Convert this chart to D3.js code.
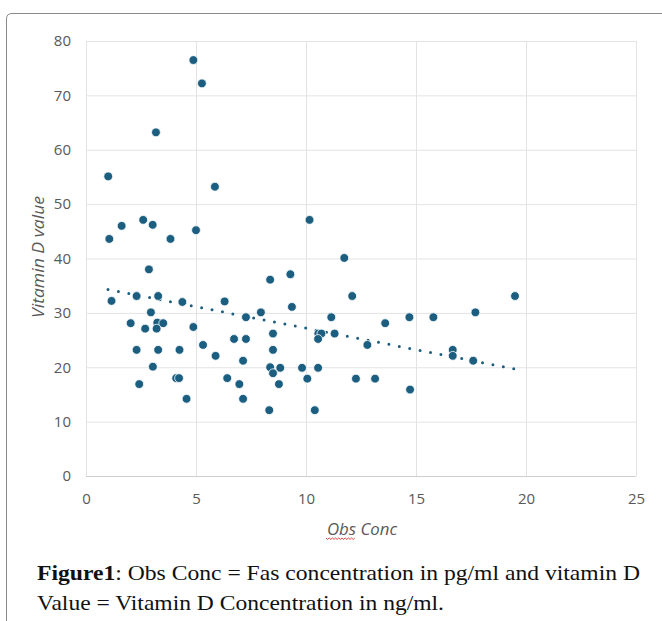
<!DOCTYPE html>
<html>
<head>
<meta charset="utf-8">
<script src="https://cdn.jsdelivr.net/npm/d3@7"></script>
<style>
  body { margin: 0; background: #fff; }
  svg text { font-family: "Open Sans", "DejaVu Sans", sans-serif; }
  .caption { font-family: "Liberation Serif", "Times New Roman", serif; font-size: 21.5px; fill: #111; }
</style>
</head>
<body>
<div id="chart-area"></div>
<script>
// Data
let obsConc = [4.88, 5.27, 3.18, 1.01, 5.86, 1.62, 2.6, 3.03, 5.0, 1.06,
    3.84, 2.86, 8.37, 1.16, 2.3, 3.28, 4.38, 6.3, 2.95, 7.95,
    7.27, 2.03, 2.69, 3.24, 3.51, 3.21, 4.88, 8.5, 6.73, 7.27,
    5.32, 8.5, 2.3, 3.28, 4.25, 5.89, 7.14, 3.04, 8.37, 8.5,
    2.42, 4.1, 4.23, 6.42, 6.97, 8.77, 4.57, 7.14, 8.33, 10.16,
    11.74, 9.29, 12.1, 9.36, 11.15, 13.6, 14.7, 15.79, 10.56, 10.7,
    11.3, 10.55, 12.79, 16.67, 16.67, 8.83, 9.82, 10.55, 10.06, 12.27,
    13.14, 14.73, 10.4, 17.7, 19.5, 17.6];
let vitD = [76.5, 72.2, 63.2, 55.1, 53.2, 46.0, 47.1, 46.2, 45.2, 43.6,
    43.6, 38.0, 36.1, 32.2, 33.1, 33.1, 32.0, 32.1, 30.1, 30.1,
    29.2, 28.1, 27.1, 28.2, 28.1, 27.1, 27.4, 26.2, 25.2, 25.2,
    24.1, 23.2, 23.2, 23.2, 23.2, 22.1, 21.2, 20.1, 20.0, 18.9,
    16.9, 18.0, 18.0, 18.0, 16.9, 16.9, 14.2, 14.2, 12.1, 47.1,
    40.1, 37.1, 33.1, 31.1, 29.2, 28.1, 29.2, 29.2, 26.2, 26.2,
    26.2, 25.2, 24.1, 23.2, 22.1, 19.9, 19.9, 19.9, 17.9, 17.9,
    17.9, 15.9, 12.1, 30.1, 33.1, 21.2];
let trendX = [1.0, 19.6];
let trendY = [34.3, 19.6];
let xTicks = [0, 5, 10, 15, 20, 25];
let yTicks = [0, 10, 20, 30, 40, 50, 60, 70, 80];

let points = obsConc.map((d, i) => ({x: d, y: vitD[i]}));

let W = 662, H = 621;
let plot = {left: 86, right: 636, top: 41, bottom: 476};

let svg = d3.select("#chart-area").append("svg")
    .attr("width", W)
    .attr("height", H);

// outer frame
svg.append("path")
    .attr("d", "M6.5," + H + " L6.5,19 Q6.5,13.5 12,13.5 L" + W + ",13.5")
    .attr("fill", "none")
    .attr("stroke", "#8a8a8a")
    .attr("stroke-width", 1);

let x = d3.scaleLinear().domain([0, 25]).range([plot.left, plot.right]);
let y = d3.scaleLinear().domain([0, 80]).range([plot.bottom, plot.top]);

// grid
svg.append("g").selectAll("line")
    .data(yTicks)
    .join("line")
    .attr("x1", plot.left).attr("x2", plot.right)
    .attr("y1", d => y(d) + 0.5).attr("y2", d => y(d) + 0.5)
    .attr("stroke", d => d === 0 ? "#cfcfcf" : "#e3e3e3");

svg.append("g").selectAll("line")
    .data(xTicks)
    .join("line")
    .attr("y1", plot.top).attr("y2", plot.bottom)
    .attr("x1", d => x(d) + 0.5).attr("x2", d => x(d) + 0.5)
    .attr("stroke", "#e3e3e3");

// axes (labels only)
let xAxis = d3.axisBottom(x).tickValues(xTicks).tickSize(0).tickPadding(17);
let yAxis = d3.axisLeft(y).tickValues(yTicks).tickSize(0).tickPadding(15);

svg.append("g")
    .attr("transform", "translate(0," + plot.bottom + ")")
    .call(xAxis)
    .call(g => g.select(".domain").remove())
    .selectAll("text").attr("font-size", 15).attr("fill", "#595959")
    .style("font-family", "'Open Sans', sans-serif");

svg.append("g")
    .attr("transform", "translate(" + plot.left + ",0)")
    .call(yAxis)
    .call(g => g.select(".domain").remove())
    .selectAll("text").attr("font-size", 15).attr("fill", "#595959")
    .style("font-family", "'Open Sans', sans-serif");

// trendline
svg.append("path")
    .datum(trendX.map((d, i) => [d, trendY[i]]))
    .attr("d", d3.line().x(d => x(d[0])).y(d => y(d[1])))
    .attr("fill", "none")
    .attr("stroke", "#1b5e80")
    .attr("stroke-width", 3)
    .attr("stroke-linecap", "round")
    .attr("stroke-dasharray", "0,10.6");

// points
svg.append("g").selectAll("circle")
    .data(points)
    .join("circle")
    .attr("cx", d => x(d.x))
    .attr("cy", d => y(d.y))
    .attr("r", 4.4)
    .attr("fill", "#1b5e80")
    .attr("stroke", "#fff")
    .attr("stroke-width", 0.8);

// axis titles
svg.append("text")
    .attr("transform", "translate(44," + 257 + ") rotate(-90)")
    .attr("text-anchor", "middle")
    .attr("font-size", 16)
    .attr("font-style", "italic")
    .attr("fill", "#595959")
    .attr("textLength", 122)
    .attr("lengthAdjust", "spacingAndGlyphs")
    .text("Vitamin D value");

svg.append("text")
    .attr("x", 362)
    .attr("y", 535)
    .attr("text-anchor", "middle")
    .attr("font-size", 16)
    .attr("font-style", "italic")
    .attr("fill", "#595959")
    .attr("textLength", 70)
    .attr("lengthAdjust", "spacingAndGlyphs")
    .text("Obs Conc");

// spell-check squiggle under "Obs"
let sq = "M326,538";
for (let i = 0; i < 18; i++) sq += " l1.6," + (i % 2 ? -1.4 : 1.4);
svg.append("path")
    .attr("d", sq)
    .attr("fill", "none")
    .attr("stroke", "#e03030")
    .attr("stroke-width", 0.9);

// caption
let cap1 = svg.append("text").attr("class", "caption").attr("x", 37).attr("y", 580)
    .attr("textLength", 603).attr("lengthAdjust", "spacingAndGlyphs");
cap1.append("tspan").attr("font-weight", "bold").text("Figure1");
cap1.append("tspan").text(": Obs Conc = Fas concentration in pg/ml and vitamin D");
svg.append("text").attr("class", "caption").attr("x", 37).attr("y", 610)
    .attr("textLength", 407).attr("lengthAdjust", "spacingAndGlyphs")
    .text("Value = Vitamin D Concentration in ng/ml.");
</script>
</body>
</html>
